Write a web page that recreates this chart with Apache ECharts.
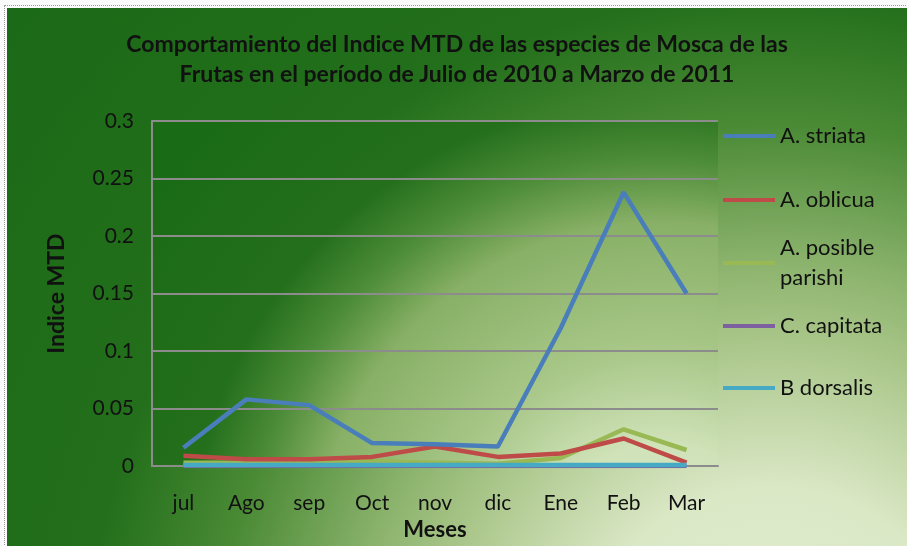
<!DOCTYPE html>
<html>
<head>
<meta charset="utf-8">
<script src="https://cdn.jsdelivr.net/npm/echarts@6/dist/echarts.min.js"></script>
<style>
  html, body { margin: 0; padding: 0; background: #fafafa; overflow: hidden; }
  #wrap { position: absolute; left: 4px; top: 5px; width: 903px; height: 541px;
          border-left: 1px dotted #9a9a9a; border-top: 1px dotted #9a9a9a; }
  #main { position: absolute; left: 2px; top: 2px; width: 900px; height: 538px; }
</style>
</head>
<body>
<div id="wrap"><div id="main"></div></div>
<script>
// meses
const months = ['jul', 'Ago', 'sep', 'Oct', 'nov', 'dic', 'Ene', 'Feb', 'Mar'];

// indice MTD por especie
const striata = [0.016, 0.058, 0.053, 0.020, 0.019, 0.017, 0.120, 0.238, 0.150];
const oblicua = [0.009, 0.006, 0.006, 0.008, 0.017, 0.008, 0.011, 0.024, 0.003];
const parishi = [0.003, 0.003, 0.004, 0.004, 0.003, 0.002, 0.007, 0.032, 0.014];
const capitata = [0, 0, 0, 0, 0, 0, 0, 0, 0];
const dorsalis = [0.001, 0.001, 0.001, 0.001, 0.001, 0.001, 0.001, 0.001, 0.001];

const yTicks = [0, 0.05, 0.1, 0.15, 0.2, 0.25, 0.3];

const font = 'Lato';
const names = ['A. striata', 'A. oblicua', 'A. posible parishi', 'C. capitata', 'B dorsalis'];
const colors = ['#4a7ebb', '#be4b48', '#98b954', '#7d60a0', '#46aac5'];
const legendTops = [108, 172, 205, 298, 360];

const chart = echarts.init(document.getElementById('main'));

function line(name, data, color, z) {
  return {
    name: name,
    type: 'line',
    data: data,
    showSymbol: false,
    symbol: 'none',
    z: z,
    lineStyle: { color: color, width: 4.5 },
    itemStyle: { color: color }
  };
}

// una leyenda por elemento, para colocarlas como en la imagen
const legends = names.map((n, i) => {
  const twoLines = n === 'A. posible parishi';
  return {
    orient: 'vertical',
    left: 711,
    top: legendTops[i],
    data: [n],
    icon: 'rect',
    itemWidth: 52,
    itemHeight: 4,
    itemGap: 0,
    formatter: name => twoLines ? 'A. posible\nparishi' : name,
    textStyle: {
      fontFamily: font, fontSize: 22, color: '#111', lineHeight: 30,
      padding: twoLines ? [30, 0, 0, 0] : 0
    }
  };
});

chart.setOption({
  backgroundColor: {
    type: 'radial', x: 0.85, y: 1.25, r: 1.88,
    colorStops: [
      { offset: 0, color: '#e2edd2' },
      { offset: 0.19, color: '#dbe8c6' },
      { offset: 0.34, color: '#a8c588' },
      { offset: 0.41, color: '#8db46e' },
      { offset: 0.55, color: '#4a8a35' },
      { offset: 0.68, color: '#236f1b' },
      { offset: 1, color: '#1b6a17' }
    ]
  },
  animation: false,
  title: {
    text: 'Comportamiento del Indice MTD de las especies de Mosca de las\nFrutas en el período de Julio de 2010 a Marzo de 2011',
    left: 'center',
    top: 17,
    padding: [5, 0, 5, 12],
    textStyle: { fontFamily: font, fontSize: 23, fontWeight: 'bold', color: '#111', lineHeight: 30 }
  },
  legend: legends,
  grid: {
    left: 145, right: 189, top: 113, bottom: 76,
    show: true,
    borderWidth: 0,
    backgroundColor: {
      type: 'radial', x: 0.9, y: 1.3, r: 1.83,
      colorStops: [
        { offset: 0, color: '#dde9c8' },
        { offset: 0.2, color: '#cfe2b8' },
        { offset: 0.35, color: '#a8c788' },
        { offset: 0.55, color: '#88b066' },
        { offset: 0.65, color: '#4d8c38' },
        { offset: 0.75, color: '#246f1c' },
        { offset: 1, color: '#1a6b16' }
      ]
    }
  },
  xAxis: {
    type: 'category',
    data: months,
    boundaryGap: true,
    name: 'Meses',
    nameLocation: 'middle',
    nameGap: 52,
    nameTextStyle: { fontFamily: font, fontSize: 22, fontWeight: 'bold', color: '#111' },
    axisLine: { lineStyle: { color: '#8c8c8c', width: 2 } },
    axisTick: { show: false },
    axisLabel: { fontFamily: font, fontSize: 21, color: '#111', margin: 27 }
  },
  yAxis: {
    type: 'value',
    min: 0,
    max: 0.3,
    interval: 0.05,
    name: 'Indice MTD',
    nameLocation: 'middle',
    nameGap: 84,
    nameRotate: 90,
    nameTextStyle: { fontFamily: font, fontSize: 23, fontWeight: 'bold', color: '#111' },
    axisLine: { show: true, lineStyle: { color: '#8c8c8c', width: 2 } },
    axisTick: { show: false },
    splitLine: { lineStyle: { color: '#8c8c8c', width: 2 } },
    axisLabel: {
      fontFamily: font, fontSize: 21, color: '#111', margin: 18,
      formatter: v => String(yTicks.find(t => Math.abs(t - v) < 1e-9) ?? v)
    }
  },
  series: [
    line(names[0], striata, colors[0], 5),
    line(names[1], oblicua, colors[1], 4),
    line(names[2], parishi, colors[2], 3),
    line(names[3], capitata, colors[3], 2),
    line(names[4], dorsalis, colors[4], 6)
  ]
});
</script>
</body>
</html>
